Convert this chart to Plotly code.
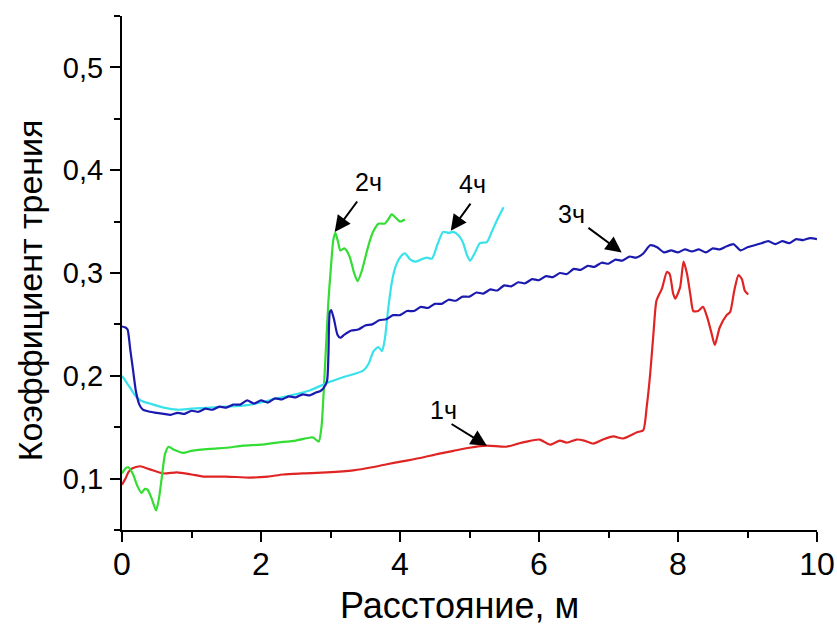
import plotly.graph_objects as go

# Коэффициент трения vs distance for four run durations
x_1h = [0.0, 0.05, 0.09, 0.15, 0.26, 0.4, 0.59, 0.79, 1.0, 1.17, 1.5, 1.84, 2.1, 2.32, 2.6, 2.95,
        3.33, 3.6, 3.81, 4.05, 4.29, 4.55, 4.77, 5.0, 5.25, 5.53, 5.7, 5.82, 6.01, 6.16, 6.3, 6.4,
        6.54, 6.65, 6.78, 6.92, 7.07, 7.21, 7.41, 7.5, 7.55, 7.6, 7.65, 7.69, 7.77, 7.84, 7.88,
        7.93, 7.96, 8.03, 8.08, 8.13, 8.18, 8.22, 8.29, 8.36, 8.42, 8.48, 8.53, 8.6, 8.7, 8.75,
        8.81, 8.87, 8.92, 8.96, 9.01]
y_1h = [0.094, 0.100, 0.106, 0.110, 0.112, 0.109, 0.105, 0.106, 0.104, 0.102, 0.102, 0.101, 0.102,
        0.104, 0.105, 0.106, 0.108, 0.111, 0.114, 0.117, 0.120, 0.124, 0.127, 0.130, 0.132, 0.131,
        0.134, 0.136, 0.138, 0.133, 0.137, 0.135, 0.138, 0.137, 0.134, 0.138, 0.141, 0.139, 0.145,
        0.147, 0.170, 0.202, 0.244, 0.273, 0.285, 0.301, 0.299, 0.280, 0.275, 0.286, 0.311, 0.299,
        0.278, 0.263, 0.263, 0.267, 0.257, 0.242, 0.230, 0.247, 0.259, 0.262, 0.283, 0.298, 0.294,
        0.283, 0.279]

x_2h = [0.0, 0.05, 0.09, 0.16, 0.22, 0.28, 0.33, 0.37, 0.43, 0.49, 0.53, 0.57, 0.62, 0.67, 0.75,
        0.88, 1.0, 1.27, 1.5, 1.74, 2.0, 2.23, 2.5, 2.71, 2.75, 2.83, 2.87, 2.92, 2.97, 3.0, 3.04,
        3.07, 3.11, 3.14, 3.2, 3.23, 3.28, 3.34, 3.39, 3.45, 3.5, 3.56, 3.62, 3.69, 3.78, 3.83,
        3.88, 3.95, 4.0, 4.07]
y_2h = [0.105, 0.110, 0.111, 0.104, 0.093, 0.086, 0.090, 0.089, 0.080, 0.069, 0.080, 0.100, 0.124,
        0.131, 0.128, 0.125, 0.127, 0.129, 0.130, 0.132, 0.133, 0.135, 0.137, 0.140, 0.140, 0.136,
        0.150, 0.208, 0.273, 0.300, 0.332, 0.339, 0.330, 0.322, 0.324, 0.322, 0.315, 0.300, 0.292,
        0.302, 0.315, 0.330, 0.341, 0.348, 0.348, 0.352, 0.357, 0.353, 0.350, 0.352]

x_3h = [0.0, 0.05, 0.08, 0.12, 0.16, 0.2, 0.25, 0.3, 0.4, 0.5, 0.6, 0.7, 0.8, 0.9, 1.0, 1.1, 1.2,
        1.3, 1.4, 1.5, 1.6, 1.7, 1.8, 1.9, 2.0, 2.1, 2.2, 2.3, 2.4, 2.5, 2.6, 2.7, 2.8, 2.85, 2.9,
        2.95, 2.97, 2.99, 3.01, 3.05, 3.1, 3.14,
        3.2, 3.3, 3.4, 3.5, 3.6, 3.7, 3.8, 3.9, 4.0, 4.1, 4.2, 4.3, 4.4, 4.5, 4.6, 4.7, 4.8, 4.9,
        5.0, 5.1, 5.2, 5.3, 5.4, 5.5, 5.6, 5.7, 5.8, 5.9, 6.0, 6.1, 6.2, 6.3, 6.4, 6.5, 6.6, 6.7,
        6.8, 6.9, 7.0, 7.1, 7.2, 7.3, 7.4, 7.5, 7.6, 7.7, 7.8, 7.9, 8.0, 8.1, 8.2, 8.3, 8.4, 8.5,
        8.6, 8.7, 8.8, 8.9, 9.0, 9.1, 9.2, 9.3, 9.4, 9.5, 9.6, 9.7, 9.8, 9.9, 10.0]
y_3h = [0.248, 0.247, 0.245, 0.225, 0.205, 0.185, 0.172, 0.167, 0.165, 0.164, 0.163, 0.162, 0.164,
        0.163, 0.166, 0.165, 0.168, 0.167, 0.170, 0.169, 0.172, 0.172, 0.176, 0.173, 0.176, 0.174,
        0.178, 0.177, 0.180, 0.179, 0.182, 0.181, 0.184, 0.185, 0.188, 0.195, 0.220, 0.262, 0.264,
        0.255, 0.240, 0.237,
        0.240, 0.244, 0.245, 0.249, 0.250, 0.254, 0.255, 0.259, 0.259, 0.263, 0.263, 0.267, 0.266,
        0.270, 0.270, 0.274, 0.273, 0.277, 0.277, 0.281, 0.280, 0.284, 0.283, 0.288, 0.287, 0.291,
        0.290, 0.294, 0.293, 0.297, 0.296, 0.300, 0.299, 0.304, 0.303, 0.307, 0.306, 0.310, 0.309,
        0.313, 0.312, 0.316, 0.315, 0.319, 0.327, 0.325, 0.320, 0.322, 0.320, 0.323, 0.321, 0.323,
        0.320, 0.324, 0.323, 0.326, 0.328, 0.322, 0.325, 0.327, 0.329, 0.331, 0.328, 0.331, 0.329,
        0.333, 0.332, 0.334, 0.333]

x_4h = [0.0, 0.05, 0.12, 0.21, 0.3, 0.4, 0.5, 0.6, 0.8, 1.0, 1.27, 1.5, 1.74, 2.0, 2.23, 2.5, 2.71,
        2.95, 3.2, 3.47, 3.55, 3.62, 3.69, 3.74, 3.78, 3.83, 3.88, 3.93, 4.0, 4.07, 4.15, 4.22,
        4.3, 4.38, 4.46, 4.54, 4.62, 4.7, 4.77, 4.85, 4.91, 4.96, 5.01, 5.08, 5.15, 5.25, 5.32,
        5.4, 5.49]
y_4h = [0.200, 0.195, 0.188, 0.179, 0.175, 0.173, 0.171, 0.169, 0.167, 0.168, 0.169, 0.170, 0.171,
        0.174, 0.178, 0.182, 0.186, 0.193, 0.199, 0.205, 0.212, 0.224, 0.228, 0.224, 0.235, 0.265,
        0.290, 0.305, 0.315, 0.319, 0.313, 0.311, 0.313, 0.315, 0.314, 0.328, 0.340, 0.339, 0.340,
        0.336, 0.329, 0.318, 0.312, 0.320, 0.329, 0.330, 0.340, 0.352, 0.364]

y_tickvals = [0.1, 0.2, 0.3, 0.4, 0.5]
y_ticktext = ["0,1", "0,2", "0,3", "0,4", "0,5"]
x_tickvals = [0, 2, 4, 6, 8, 10]

# curve labels: (text, text_x, text_y, arrow_tail_x, arrow_tail_y, arrow_tip_x, arrow_tip_y)
labels = [
    ("1ч", 4.62, 0.167, 4.72, 0.154, 5.25, 0.132),
    ("2ч", 3.54, 0.389, 3.40, 0.371, 3.06, 0.340),
    ("4ч", 5.05, 0.387, 5.03, 0.369, 4.73, 0.341),
    ("3ч", 6.47, 0.357, 6.69, 0.345, 7.19, 0.320),
]

FONT = "Arial, Liberation Sans, sans-serif"

fig = go.Figure()
series = [
    (x_1h, y_1h, "#e02424", "1ч"),
    (x_2h, y_2h, "#33dd33", "2ч"),
    (x_4h, y_4h, "#38e2ea", "4ч"),
    (x_3h, y_3h, "#1a1ab0", "3ч"),
]
for xs, ys, color, name in series:
    fig.add_trace(go.Scatter(
        x=xs, y=ys, mode="lines", name=name,
        line=dict(color=color, width=2.2, shape="spline", smoothing=0.6),
        showlegend=False,
    ))

annotations = []
for text, tx, ty, ax, ay, hx, hy in labels:
    annotations.append(dict(
        x=hx, y=hy, ax=ax, ay=ay, xref="x", yref="y", axref="x", ayref="y",
        text="", showarrow=True, arrowhead=2, arrowsize=1.6, arrowwidth=2,
        arrowcolor="black", standoff=0,
    ))
    annotations.append(dict(
        x=tx, y=ty, xref="x", yref="y", text=text, showarrow=False,
        font=dict(family=FONT, size=25, color="black"),
    ))

# axis titles
annotations.append(dict(
    x=-0.132, y=0.467, xref="paper", yref="paper", text="Коэффициент трения",
    textangle=-90, showarrow=False, xanchor="center", yanchor="middle",
    font=dict(family=FONT, size=34, color="black"),
))
annotations.append(dict(
    x=0.485, y=-0.147, xref="paper", yref="paper", text="Расстояние, м",
    showarrow=False, xanchor="center", yanchor="middle",
    font=dict(family=FONT, size=36, color="black"),
))

axis_common = dict(
    showline=True, linecolor="black", linewidth=2, mirror=False,
    showgrid=False, zeroline=False, automargin=False,
    ticks="outside", ticklen=10, tickwidth=2, tickcolor="black",
)

fig.update_layout(
    template="none",
    width=837, height=627,
    margin=dict(l=122, r=20, t=16, b=97),
    paper_bgcolor="white", plot_bgcolor="white",
    font=dict(family=FONT, color="black"),
    xaxis=dict(
        range=[0, 10], tickvals=x_tickvals,
        tickfont=dict(family=FONT, size=32, color="black"), ticklabelstandoff=-5,
        minor=dict(dtick=1, tick0=0, ticklen=6, tickwidth=2, tickcolor="black", ticks="outside"),
        **axis_common,
    ),
    yaxis=dict(
        range=[0.05, 0.55], tickvals=y_tickvals, ticktext=y_ticktext,
        tickfont=dict(family=FONT, size=29, color="black"), ticklabelstandoff=1,
        minor=dict(dtick=0.05, tick0=0.05, ticklen=6, tickwidth=2, tickcolor="black", ticks="outside"),
        **axis_common,
    ),
    annotations=annotations,
)

fig.write_html("out.html")
